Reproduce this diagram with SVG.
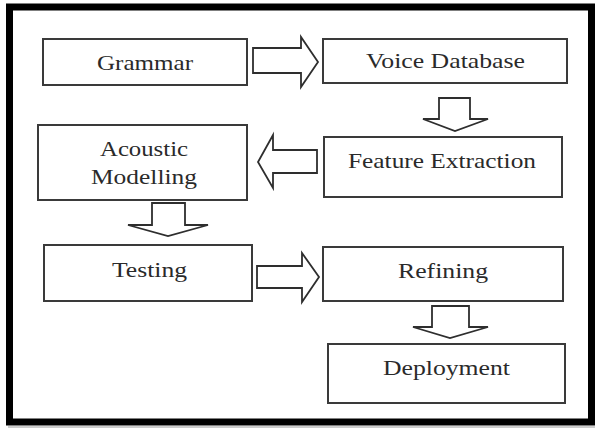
<svg xmlns="http://www.w3.org/2000/svg" width="595" height="428" viewBox="0 0 595 428">
  <style>
    .frame { fill: #ffffff; stroke: #000000; stroke-width: 7; }
    .box { fill: #ffffff; stroke: #3a3a3a; stroke-width: 2; }
    .arrow { fill: #ffffff; stroke: #2e2e2e; stroke-width: 1.8; stroke-linejoin: miter; }
    .label { font-family: "Liberation Serif", "Times New Roman", serif; font-size: 22px; fill: #2a2a2a; text-anchor: middle; }
  </style>

  <rect width="595" height="428" fill="#ffffff"/>
  <line x1="8" y1="427" x2="595" y2="427" stroke="#9a9a9a" stroke-width="1"/>
  <rect class="frame" x="9.5" y="7" width="582" height="415"/>

  <g id="grammar">
    <rect class="box" x="43" y="39" width="204" height="46"/>
    <text class="label" x="145" y="70" textLength="96" lengthAdjust="spacingAndGlyphs">Grammar</text>
  </g>
  <g id="voice-database">
    <rect class="box" x="323" y="39" width="244" height="44"/>
    <text class="label" x="445.5" y="68" textLength="159" lengthAdjust="spacingAndGlyphs">Voice Database</text>
  </g>
  <g id="acoustic-modelling">
    <rect class="box" x="38" y="125" width="209" height="75"/>
    <text class="label" x="144" y="156" textLength="88" lengthAdjust="spacingAndGlyphs">Acoustic</text>
    <text class="label" x="144" y="184" textLength="106" lengthAdjust="spacingAndGlyphs">Modelling</text>
  </g>
  <g id="feature-extraction">
    <rect class="box" x="324" y="137" width="238" height="60"/>
    <text class="label" x="442" y="168" textLength="188" lengthAdjust="spacingAndGlyphs">Feature Extraction</text>
  </g>
  <g id="testing">
    <rect class="box" x="44" y="245" width="208" height="56"/>
    <text class="label" x="149.5" y="277" textLength="75" lengthAdjust="spacingAndGlyphs">Testing</text>
  </g>
  <g id="refining">
    <rect class="box" x="323" y="247" width="240" height="54"/>
    <text class="label" x="443" y="278" textLength="90" lengthAdjust="spacingAndGlyphs">Refining</text>
  </g>
  <g id="deployment">
    <rect class="box" x="328" y="344" width="237" height="59"/>
    <text class="label" x="446.5" y="375" textLength="127" lengthAdjust="spacingAndGlyphs">Deployment</text>
  </g>

  <g id="connectors">
    <path class="arrow" d="M253,48 H301 V37 L318,62 L301,87 V73 H253 Z"/>
    <path class="arrow" d="M439,98 H470 V119 H488 L455,131 L423,119 H439 Z"/>
    <path class="arrow" d="M317,150 H273 V135 L258,162 L273,188 V173 H317 Z"/>
    <path class="arrow" d="M152,203 H185 V225 H208 L168,236 L128,225 H152 Z"/>
    <path class="arrow" d="M257,266 H302 V253 L319,277 L302,302 V288 H257 Z"/>
    <path class="arrow" d="M432,306 H469 V327 H488 L450,338 L413,327 H432 Z"/>
  </g>
</svg>
